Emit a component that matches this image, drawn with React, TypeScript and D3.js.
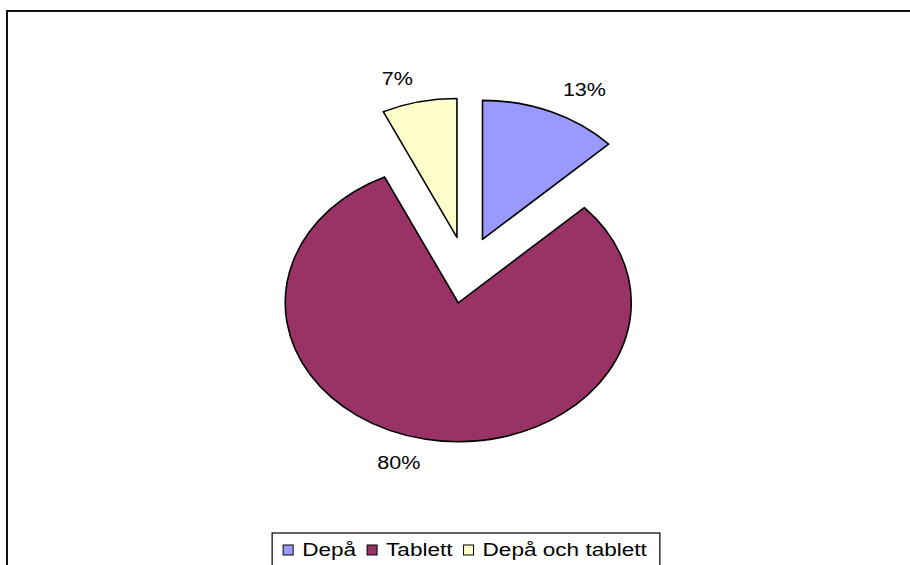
import React, { useEffect, useRef } from 'react';
import * as d3 from 'd3';

const categories = ['Depå', 'Tablett', 'Depå och tablett'];
const values = [13, 80, 7];
const pctLabels = ['13%', '80%', '7%'];
const sliceColors = ['#9999FF', '#993366', '#FFFFCC'];

const width = 910;
const height = 565;
const font = '"Liberation Sans", Arial, sans-serif';
const fontSize = 17.5;
const stretch = 1.23; // the original text is drawn a bit wide
const legendSize = 18.5;
const legendStretch = 1.22;

export default function App() {
  const ref = useRef<SVGSVGElement>(null);

  useEffect(() => {
    const svg = d3.select(ref.current);
    svg.selectAll('*').remove();

    // frame (only top and left edges are visible in the crop)
    svg.append('path')
      .attr('d', `M7,${height} L7,11 L${width},11`)
      .attr('fill', 'none')
      .attr('stroke', '#111')
      .attr('stroke-width', 2);

    const cx = 466;
    const cy = 270;
    const rx = 173;
    const ry = 139;
    const explode = 0.24;

    const pie = d3.pie<number>().value((d) => d).sort(null);
    const arc = d3.arc<d3.PieArcDatum<number>>().innerRadius(0).outerRadius(1);
    const arcs = pie(values);

    const slices = svg.append('g');
    arcs.forEach((d, i) => {
      const mid = (d.startAngle + d.endAngle) / 2;
      const ax = cx + explode * rx * Math.sin(mid);
      const ay = cy - explode * ry * Math.cos(mid);
      slices.append('path')
        .attr('transform', `translate(${ax},${ay}) scale(${rx},${ry})`)
        .attr('d', arc(d))
        .attr('fill', sliceColors[i])
        .attr('stroke', '#000')
        .attr('stroke-width', 1.6)
        .attr('stroke-linejoin', 'round')
        .attr('vector-effect', 'non-scaling-stroke');

      // percent label outside the slice
      const s = Math.sin(mid);
      const c = Math.cos(mid);
      const g = svg.append('g');
      const t = g.append('text')
        .attr('font-family', font)
        .attr('font-size', fontSize)
        .attr('fill', '#000')
        .attr('text-anchor', 'middle')
        .attr('dy', '0.35em')
        .text(pctLabels[i]);
      const w = (t.node() as SVGTextElement).getComputedTextLength() * stretch;
      const lx = ax + rx * 1.17 * s + Math.sign(s) * w / 2;
      const ly = ay - ry * 1.17 * c;
      g.attr('transform', `translate(${lx},${ly}) scale(${stretch},1)`);
    });

    // legend
    const legend = svg.append('g');
    const box = legend.append('rect')
      .attr('fill', '#fff')
      .attr('stroke', '#000')
      .attr('stroke-width', 1.2);
    let x = 0;
    const items = legend.append('g');
    categories.forEach((name, i) => {
      items.append('rect')
        .attr('x', x)
        .attr('y', -11)
        .attr('width', 10)
        .attr('height', 10)
        .attr('fill', sliceColors[i])
        .attr('stroke', '#000')
        .attr('stroke-width', 1);
      x += 19;
      const tg = items.append('g').attr('transform', `translate(${x},0) scale(${legendStretch},1)`);
      const t = tg.append('text')
        .attr('font-family', font)
        .attr('font-size', legendSize)
        .attr('fill', '#000')
        .text(name);
      x += (t.node() as SVGTextElement).getComputedTextLength() * legendStretch + 11;
    });
    const total = x - 11;
    const left = 465 - total / 2;
    items.attr('transform', `translate(${left},556)`);
    box.attr('x', left - 11)
      .attr('y', 533)
      .attr('width', total + 24)
      .attr('height', 60);
  }, []);

  return (
    <svg
      ref={ref}
      width={width}
      height={height}
      style={{ position: 'absolute', left: 0, top: 0, background: '#fff' }}
    />
  );
}
